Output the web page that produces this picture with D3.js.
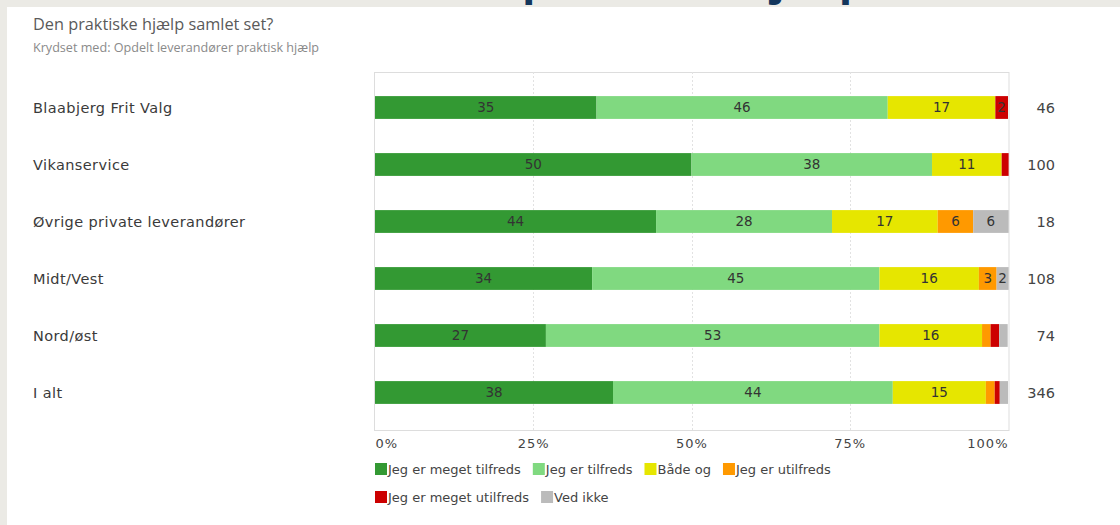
<!DOCTYPE html>
<html>
<head>
<meta charset="utf-8">
<script src="https://cdn.jsdelivr.net/npm/d3@7"></script>
<style>
  html, body { margin: 0; padding: 0; background: #ebeae5; }
  svg { display: block; }
</style>
</head>
<body>
<svg id="chart" width="1120" height="525"></svg>
<script>
const categories = ['Blaabjerg Frit Valg', 'Vikanservice', 'Øvrige private leverandører', 'Midt/Vest', 'Nord/øst', 'I alt'];
const answers = ['Jeg er meget tilfreds', 'Jeg er tilfreds', 'Både og', 'Jeg er utilfreds', 'Jeg er meget utilfreds', 'Ved ikke'];
const answerColors = ['#339933', '#80d980', '#e6e600', '#ff9900', '#cc0000', '#bbbbbb'];
// percentages per category, in answer order
const meget_tilfreds = [35, 50, 44.4, 34.3, 27.0, 37.6];
const tilfreds = [46, 38, 27.8, 45.4, 52.7, 44.2];
const baade_og = [17, 11, 16.7, 15.7, 16.2, 14.7];
const utilfreds = [0, 0, 5.6, 2.8, 1.35, 1.4];
const meget_utilfreds = [2, 1.1, 0, 0, 1.35, 0.8];
const ved_ikke = [0, 0, 5.6, 1.9, 1.35, 1.3];
const counts = [46, 100, 18, 108, 74, 346];
const xTicks = [0, 25, 50, 75, 100];

const series = [meget_tilfreds, tilfreds, baade_og, utilfreds, meget_utilfreds, ved_ikke];
const rows = categories.map((c, i) => {
  let row = { category: c, n: counts[i] };
  answers.forEach((a, j) => { row[a] = series[j][i]; });
  return row;
});

const svg = d3.select('#chart');

// page heading, mostly scrolled out of view above the panel
svg.append('text')
  .attr('x', 60).attr('y', -6)
  .attr('font-family', 'Open Sans, sans-serif')
  .attr('font-size', 44).attr('font-weight', 'bold')
  .attr('fill', '#13365c')
  .text('Tilfredshed med den praktiske hjælp');

svg.append('rect')
  .attr('x', 7).attr('y', 7).attr('width', 1113).attr('height', 518)
  .attr('fill', '#ffffff');

svg.append('text')
  .attr('x', 33).attr('y', 30)
  .attr('font-family', 'Open Sans, sans-serif')
  .attr('font-size', 16.3).attr('fill', '#5a5a5a')
  .text('Den praktiske hjælp samlet set?');

svg.append('text')
  .attr('x', 33).attr('y', 52)
  .attr('font-family', 'Open Sans, sans-serif')
  .attr('font-size', 12.6).attr('fill', '#8a8a8a')
  .text('Krydset med: Opdelt leverandører praktisk hjælp');

const plot = { left: 375, right: 1008, top: 72, bottom: 430 };

let x = d3.scaleLinear().domain([0, 100]).range([plot.left, plot.right]);
let y = d3.scaleBand().domain(categories).range([79, 421]).paddingInner(0.6).paddingOuter(0.3);

// frame
svg.append('rect')
  .attr('x', plot.left - 0.5).attr('y', plot.top + 0.5)
  .attr('width', plot.right - plot.left + 1.5).attr('height', plot.bottom - plot.top)
  .attr('fill', 'none').attr('stroke', '#dddddd');

// dotted grid lines
svg.append('g').selectAll('line')
  .data(xTicks.slice(1, -1))
  .join('line')
  .attr('x1', d => Math.round(x(d)) + 0.5).attr('x2', d => Math.round(x(d)) + 0.5)
  .attr('y1', plot.top).attr('y2', plot.bottom)
  .attr('stroke', '#e2e2e2').attr('stroke-dasharray', '2,2');

const stack = d3.stack().keys(answers);
const stacked = stack(rows);

let layers = svg.append('g').selectAll('g')
  .data(stacked)
  .join('g')
  .attr('fill', (d, i) => answerColors[i]);

layers.selectAll('rect')
  .data(d => d)
  .join('rect')
  .attr('x', d => x(d[0]))
  .attr('width', d => Math.max(0, x(d[1]) - x(d[0])))
  .attr('y', d => y(d.data.category))
  .attr('height', y.bandwidth());

layers.selectAll('text')
  .data(d => d.filter(s => Math.round(s[1] - s[0]) >= 2))
  .join('text')
  .attr('x', d => (x(d[0]) + x(d[1])) / 2)
  .attr('y', d => y(d.data.category) + y.bandwidth() / 2)
  .attr('dy', '0.36em')
  .attr('text-anchor', 'middle')
  .attr('font-family', 'DejaVu Sans, sans-serif')
  .attr('font-size', 13.5)
  .attr('fill', '#333')
  .text(d => Math.round(d[1] - d[0]));

// category labels
svg.append('g').selectAll('text')
  .data(rows)
  .join('text')
  .attr('x', 33)
  .attr('y', d => y(d.category) + y.bandwidth() / 2)
  .attr('dy', '0.36em')
  .attr('font-family', 'DejaVu Sans, sans-serif')
  .attr('font-size', 14.5)
  .attr('letter-spacing', 0.4)
  .attr('fill', '#3a3a3a')
  .text(d => d.category);

// counts
svg.append('g').selectAll('text')
  .data(rows)
  .join('text')
  .attr('x', 1055)
  .attr('y', d => y(d.category) + y.bandwidth() / 2)
  .attr('dy', '0.36em')
  .attr('text-anchor', 'end')
  .attr('font-family', 'DejaVu Sans, sans-serif')
  .attr('font-size', 14.5)
  .attr('fill', '#444')
  .text(d => d.n);

// x axis
let axis = d3.axisBottom(x).tickValues(xTicks).tickSize(0).tickFormat(d => d + '%');
let axisG = svg.append('g')
  .attr('transform', `translate(0,${plot.bottom + 6})`)
  .call(axis);
axisG.select('.domain').remove();
axisG.selectAll('text')
  .attr('font-family', 'DejaVu Sans, sans-serif')
  .attr('font-size', 13)
  .attr('letter-spacing', 1)
  .attr('fill', '#444')
  .attr('text-anchor', d => d === 0 ? 'start' : (d === 100 ? 'end' : 'middle'));

// legend
const legendRows = [[0, 1, 2, 3], [4, 5]];
let legend = svg.append('g');
legendRows.forEach((items, r) => {
  let lx = plot.left;
  items.forEach(k => {
    let g = legend.append('g').attr('transform', `translate(${lx},${463 + r * 28})`);
    g.append('rect').attr('width', 12).attr('height', 12).attr('fill', answerColors[k]);
    let t = g.append('text')
      .attr('x', 13).attr('y', 6).attr('dy', '0.36em')
      .attr('font-family', 'DejaVu Sans, sans-serif')
      .attr('font-size', 13)
      .attr('fill', '#444')
      .text(answers[k]);
    lx += 13 + t.node().getComputedTextLength() + 12;
  });
});
</script>
</body>
</html>
